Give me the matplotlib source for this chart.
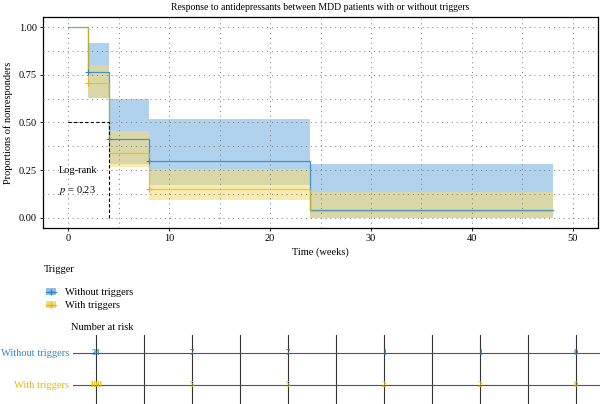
import matplotlib
matplotlib.use("Agg")
import matplotlib.pyplot as plt
from matplotlib.lines import Line2D
from matplotlib.patches import Patch
import numpy as np

plt.rcParams['font.family'] = ['Liberation Serif', 'DejaVu Serif']
plt.rcParams['mathtext.fontset'] = 'stix'

# ---- data ----
times = [0, 2, 4, 8, 24, 48]
surv_without = [1.0, 0.765, 0.414, 0.298, 0.04, 0.04]
upper_without = [1.0, 0.92, 0.625, 0.52, 0.284, 0.284]
lower_without = [1.0, 0.63, 0.28, 0.17, 0.0, 0.0]
surv_with = [1.0, 0.709, 0.34, 0.15, 0.035, 0.035]
upper_with = [1.0, 0.805, 0.455, 0.256, 0.137, 0.137]
lower_with = [1.0, 0.63, 0.265, 0.09, 0.0, 0.0]
censor_without_t = [2, 4, 8]
censor_without_s = [0.765, 0.414, 0.298]
censor_with_t = [2, 8]
censor_with_s = [0.709, 0.15]
median_time = 4

risk_times = [0, 10, 20, 30, 40, 50]
risk_without = [34, 7, 7, 1, 1, 0]
risk_with = [100, 5, 5, 2, 2, 0]

groups = ["Without triggers", "With triggers"]
blue = "#2E86C8"
yellow = "#E7B800"
blue_fill = "#8fc0e6"
yellow_fill = "#f5dc7a"

W, H = 600, 404
fig = plt.figure(figsize=(6, 4.04), dpi=100)

# ---- main KM axes ----
ax = fig.add_axes([43 / W, 1 - 228 / H, 555 / W, 211 / H])
ax.fill_between(times, lower_without, upper_without, step='post',
                color=blue_fill, alpha=0.7, lw=0, zorder=1)
ax.fill_between(times, lower_with, upper_with, step='post',
                color=yellow_fill, alpha=0.6, lw=0, zorder=1)
ax.step(times, surv_without, where='post', color=blue, lw=0.9, alpha=0.85, zorder=3)
ax.step(times, surv_with, where='post', color=yellow, lw=0.9, alpha=0.7, zorder=3)
ax.plot(censor_without_t, censor_without_s, '+', color=blue, ms=4, mew=0.8, zorder=4)
ax.plot(censor_with_t, censor_with_s, '+', color=yellow, ms=4, mew=0.8, zorder=4)

# median lines
ax.plot([0, median_time], [0.5, 0.5], ls=(0, (3, 2)), color='black', lw=0.8, zorder=3)
ax.plot([median_time, median_time], [0, 0.5], ls=(0, (3, 2)), color='black', lw=0.8, zorder=3)

ax.set_xlim(-2.5, 52.5)
ax.set_ylim(-0.055, 1.055)
ax.set_xticks([0, 10, 20, 30, 40, 50])
ax.set_yticks([0, 0.25, 0.5, 0.75, 1.0])
ax.set_yticklabels(["0.00", "0.25", "0.50", "0.75", "1.00"])
ax.set_xticks([5, 15, 25, 35, 45], minor=True)
ax.set_yticks([0.125, 0.375, 0.625, 0.875], minor=True)
ax.tick_params(which='minor', length=0)
ax.tick_params(which='major', length=2.5, width=0.6, labelsize=7.5, pad=2)
ax.grid(True, which='both', ls=(0, (1, 4)), color='#777777', lw=0.7, zorder=2)
ax.set_axisbelow(False)
for s in ax.spines.values():
    s.set_linewidth(0.9)

ax.set_xlabel("Time (weeks)", fontsize=7.5, labelpad=3)
ax.set_ylabel("Proportions of nonresponders", fontsize=7.5, labelpad=4)
ax.set_title("Response to antidepressants between MDD patients with or without triggers",
             fontsize=7, pad=5)
ax.text(-0.9, 0.247, "Log-rank", fontsize=7.5, va='center', ha='left')
ax.text(-0.9, 0.142, r"$p$ = 0.23", fontsize=7.5, va='center', ha='left')

# ---- legend ----
fig.text(44 / W, 1 - 270 / H, "Trigger", fontsize=7.5, va='center', ha='left')
handles = [
    (Patch(facecolor=blue_fill, edgecolor='none'), Line2D([], [], color=blue, marker='+', lw=0.9, ms=4)),
    (Patch(facecolor=yellow_fill, edgecolor='none'), Line2D([], [], color=yellow, marker='+', lw=0.9, ms=4)),
]
leg = fig.legend(handles, groups, loc='upper left', bbox_to_anchor=(42 / W, 1 - 284 / H),
                 frameon=False, fontsize=7.5, handlelength=0.9, handleheight=0.7,
                 handletextpad=0.9, labelspacing=0.35, borderaxespad=0)

# ---- risk table ----
fig.text(71 / W, 1 - 327 / H, "Number at risk", fontsize=7.5, va='center', ha='left')
rax = fig.add_axes([73 / W, 0, 527 / W, 69 / H])
rax.set_xlim(-2.4, 52.5)
rax.set_ylim(69, 0)
rows_y = [18, 50]
rax.set_xticks(np.arange(0, 51, 5))
rax.set_yticks(rows_y)
rax.grid(True, axis='x', color='#333333', lw=0.8)
rax.grid(True, axis='y', color='#555555', lw=0.8)
rax.tick_params(length=0, labelbottom=False, labelleft=False)
for s in rax.spines.values():
    s.set_visible(False)
for vals, y, col in [(risk_without, rows_y[0], blue), (risk_with, rows_y[1], yellow)]:
    for t, v in zip(risk_times, vals):
        rax.text(t, y, str(v), color=col, fontsize=6, ha='center', va='center',
                 fontweight='bold')
fig.text(69 / W, 1 - 353 / H, groups[0], color=blue, fontsize=7.5, ha='right', va='center')
fig.text(69 / W, 1 - 385 / H, groups[1], color=yellow, fontsize=7.5, ha='right', va='center')

fig.savefig("out.png", dpi=100)
